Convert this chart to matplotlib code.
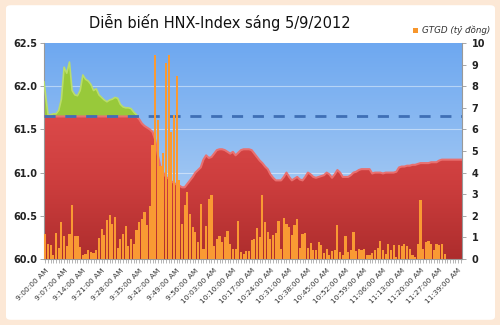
import numpy as np
import matplotlib.pyplot as plt
from matplotlib.colors import LinearSegmentedColormap
from matplotlib.patches import FancyBboxPatch, Rectangle

# reference (previous close) level of the index
ref_level = 61.65

# HNX-Index, one value per minute slot
hnx_index = [
    62.05, 61.67, 61.67, 61.68, 61.68, 61.72, 61.85, 62.22, 62.15, 62.28,
    61.95, 61.90, 61.89, 61.95, 62.13, 62.08, 62.06, 62.02, 61.95, 61.97,
    61.90, 61.87, 61.84, 61.82, 61.84, 61.85, 61.87, 61.86, 61.79, 61.76,
    61.75, 61.75, 61.74, 61.70, 61.67, 61.62, 61.57, 61.54, 61.52, 61.50,
    61.47, 61.38, 61.20, 61.06, 61.00, 60.95, 60.93, 60.90, 60.88, 60.86,
    60.85, 60.83, 60.83, 60.87, 60.91, 60.95, 61.00, 61.03, 61.06, 61.15,
    61.20, 61.17, 61.18, 61.22, 61.26, 61.27, 61.27, 61.26, 61.24, 61.22,
    61.24, 61.20, 61.23, 61.26, 61.27, 61.27, 61.27, 61.26, 61.22, 61.18,
    61.14, 61.11, 61.07, 61.04, 60.98, 60.94, 60.91, 60.91, 60.91, 60.95,
    61.00, 60.95, 60.91, 60.93, 60.95, 60.92, 60.91, 60.95, 61.00, 60.98,
    60.95, 60.94, 60.95, 60.96, 60.97, 61.00, 60.98, 60.94, 60.98, 61.03,
    61.00, 60.95, 60.95, 60.95, 60.97, 61.00, 61.01, 61.03, 61.04, 61.04,
    61.04, 61.04, 60.99, 61.00, 61.00, 61.00, 60.99, 61.00, 61.00, 61.00,
    61.00, 61.01, 61.06, 61.07, 61.07, 61.08, 61.08, 61.09, 61.09, 61.10,
    61.11, 61.11, 61.11, 61.11, 61.12, 61.12, 61.12, 61.14, 61.15, 61.15,
    61.15, 61.15, 61.15, 61.15, 61.15, 61.15,
]

# GTGD (ty dong) per minute
gtgd = [
    1.14, 0.70, 0.67, 0.19, 1.22, 0.50, 1.72, 1.05, 0.58, 1.17,
    2.50, 1.05, 1.05, 0.54, 0.19, 0.23, 0.42, 0.31, 0.27, 0.42,
    0.97, 1.37, 1.10, 1.80, 2.06, 1.64, 1.95, 0.50, 0.91, 1.17,
    1.53, 0.62, 0.93, 0.70, 1.36, 1.72, 1.83, 2.16, 1.56, 2.45,
    5.28, 9.44, 6.44, 4.30, 4.90, 9.07, 9.44, 5.88, 6.67, 8.47,
    3.66, 1.62, 2.52, 3.09, 2.08, 1.47, 1.23, 0.77, 2.55, 0.46,
    1.54, 2.78, 2.98, 0.62, 0.93, 1.08, 0.77, 1.00, 1.31, 0.69,
    0.46, 0.46, 1.74, 0.31, 0.23, 0.35, 0.39, 0.87, 0.92, 1.43,
    1.03, 2.94, 1.70, 1.27, 0.92, 1.10, 1.19, 1.75, 0.48, 1.90,
    1.62, 1.46, 1.10, 1.59, 1.83, 0.52, 1.16, 1.19, 0.52, 0.75,
    0.40, 0.43, 0.78, 0.67, 0.27, 0.48, 0.19, 0.37, 0.43, 1.59,
    0.32, 0.19, 1.08, 0.32, 0.40, 1.27, 0.37, 0.48, 0.43, 0.44,
    0.19, 0.19, 0.27, 0.40, 0.52, 0.83, 0.43, 0.24, 0.68, 0.40,
    0.67, 0.08, 0.63, 0.59, 0.68, 0.59, 0.48, 0.20, 0.11, 0.68,
    2.75, 0.48, 0.79, 0.84, 0.68, 0.43, 0.71, 0.63, 0.68, 0.24,
]

time_labels = [
    '9:00:00 AM', '9:07:00 AM', '9:14:00 AM', '9:21:00 AM', '9:28:00 AM',
    '9:35:00 AM', '9:42:00 AM', '9:49:00 AM', '9:56:00 AM', '10:03:00 AM',
    '10:10:00 AM', '10:17:00 AM', '10:24:00 AM', '10:31:00 AM', '10:38:00 AM',
    '10:45:00 AM', '10:52:00 AM', '10:59:00 AM', '11:06:00 AM', '11:13:00 AM',
    '11:20:00 AM', '11:27:00 AM', '11:39:00 AM',
]

n = len(hnx_index)
idx = np.array(hnx_index)
x = np.arange(n, dtype=float)
x_fill = x.copy()
x_fill[0] = -0.5
x_fill[-1] = n - 0.5

fig = plt.figure(figsize=(5, 3.25), dpi=100)
fig.patch.set_facecolor('#fce8d6')
panel = FancyBboxPatch((0.012, 0.016), 0.978, 0.968,
                       boxstyle='round,pad=0,rounding_size=0.01',
                       transform=fig.transFigure, facecolor='white',
                       edgecolor='none', zorder=-10)
fig.patches.append(panel)

ax = fig.add_axes([44 / 500, 66 / 325, 418 / 500, 216 / 325])
ax.set_facecolor('none')

# blue gradient background
bg_cmap = LinearSegmentedColormap.from_list('bg', ['#b9d6f5', '#6ea8f0'])
ax.imshow(np.linspace(0, 1, 200).reshape(-1, 1), cmap=bg_cmap, origin='lower',
          extent=[-0.5, n - 0.5, 60, 62.5], aspect='auto', zorder=0)

for g in [60.5, 61.0, 61.5, 62.0]:
    ax.axhline(g, color='white', lw=0.8, alpha=0.45, zorder=1)

# red area up to min(index, reference)
red_top = np.minimum(idx, ref_level)
red_poly = ax.fill_between(x_fill, 60, red_top, facecolor='none', edgecolor='none')
red_cmap = LinearSegmentedColormap.from_list('red', ['#ad2d2d', '#cc3d3d', '#dc4a4a'])
red_img = ax.imshow(np.linspace(0, 1, 200).reshape(-1, 1), cmap=red_cmap, origin='lower',
                    extent=[-0.5, n - 0.5, 60, 61.7], aspect='auto', zorder=2)
red_img.set_clip_path(red_poly.get_paths()[0], transform=ax.transData)
ax.plot(x_fill, red_top, color='#e97070', lw=1.5, zorder=3)

# green area above the reference
ax.fill_between(x_fill, ref_level, idx, where=idx >= ref_level, interpolate=True,
                facecolor='#98c93a', edgecolor='none', zorder=2)
green_top = np.where(idx >= ref_level, idx, np.nan)
ax.plot(x_fill, green_top, color='#b9dd6a', lw=1.2, zorder=3)

ax.axhline(ref_level, color='#3f6fb5', lw=2, ls=(0, (4, 3.5)), zorder=4)

ax.set_xlim(-0.5, n - 0.5)
ax.set_ylim(60, 62.5)
ax.set_yticks([60.0, 60.5, 61.0, 61.5, 62.0, 62.5])
ax.set_yticklabels(['60.0', '60.5', '61.0', '61.5', '62.0', '62.5'],
                   fontsize=7, fontweight='bold', color='#222222')
tick_pos = list(range(0, 148, 7)) + [154]
ax.set_xticks(tick_pos)
ax.set_xticklabels(time_labels, rotation=45, ha='right', rotation_mode='anchor',
                   fontsize=5.3, color='#333333')
ax.set_xticks(np.arange(n), minor=True)
ax.tick_params(axis='x', which='both', length=3, width=0.5, color='#999999', pad=3)
ax.tick_params(axis='y', length=3, width=0.6, color='#999999', pad=2)
for side in ['top', 'right']:
    ax.spines[side].set_visible(False)
ax.spines['left'].set_color('#999999')
ax.spines['bottom'].set_color('#999999')

# traded value bars on the right axis
ax2 = ax.twinx()
ax2.bar(np.arange(len(gtgd)), gtgd, width=0.8, color='#f99a33',
        edgecolor='none', zorder=5)
ax2.set_ylim(0, 10)
ax2.set_xlim(-0.5, n - 0.5)
ax2.set_yticks(range(0, 11))
ax2.set_yticklabels([str(v) for v in range(0, 11)], fontsize=7,
                    fontweight='bold', color='#222222')
ax2.tick_params(axis='y', length=3, width=0.6, color='#999999', pad=4)
for side in ['top', 'left', 'bottom']:
    ax2.spines[side].set_visible(False)
ax2.spines['right'].set_color('#999999')

fig.text(0.44, 0.932, 'Diễn biến HNX-Index sáng 5/9/2012', ha='center', va='center',
         fontsize=10.5, color='#111111')
fig.patches.append(Rectangle((413 / 500, 1 - 33 / 325), 5 / 500, 5 / 325,
                             transform=fig.transFigure, facecolor='#f7962c',
                             edgecolor='none'))
fig.text(422 / 500, 1 - 30 / 325, 'GTGD (tỷ đồng)', ha='left', va='center',
         fontsize=6.3, style='italic', color='#333333')

plt.savefig('out.png', dpi=100, facecolor=fig.get_facecolor())
